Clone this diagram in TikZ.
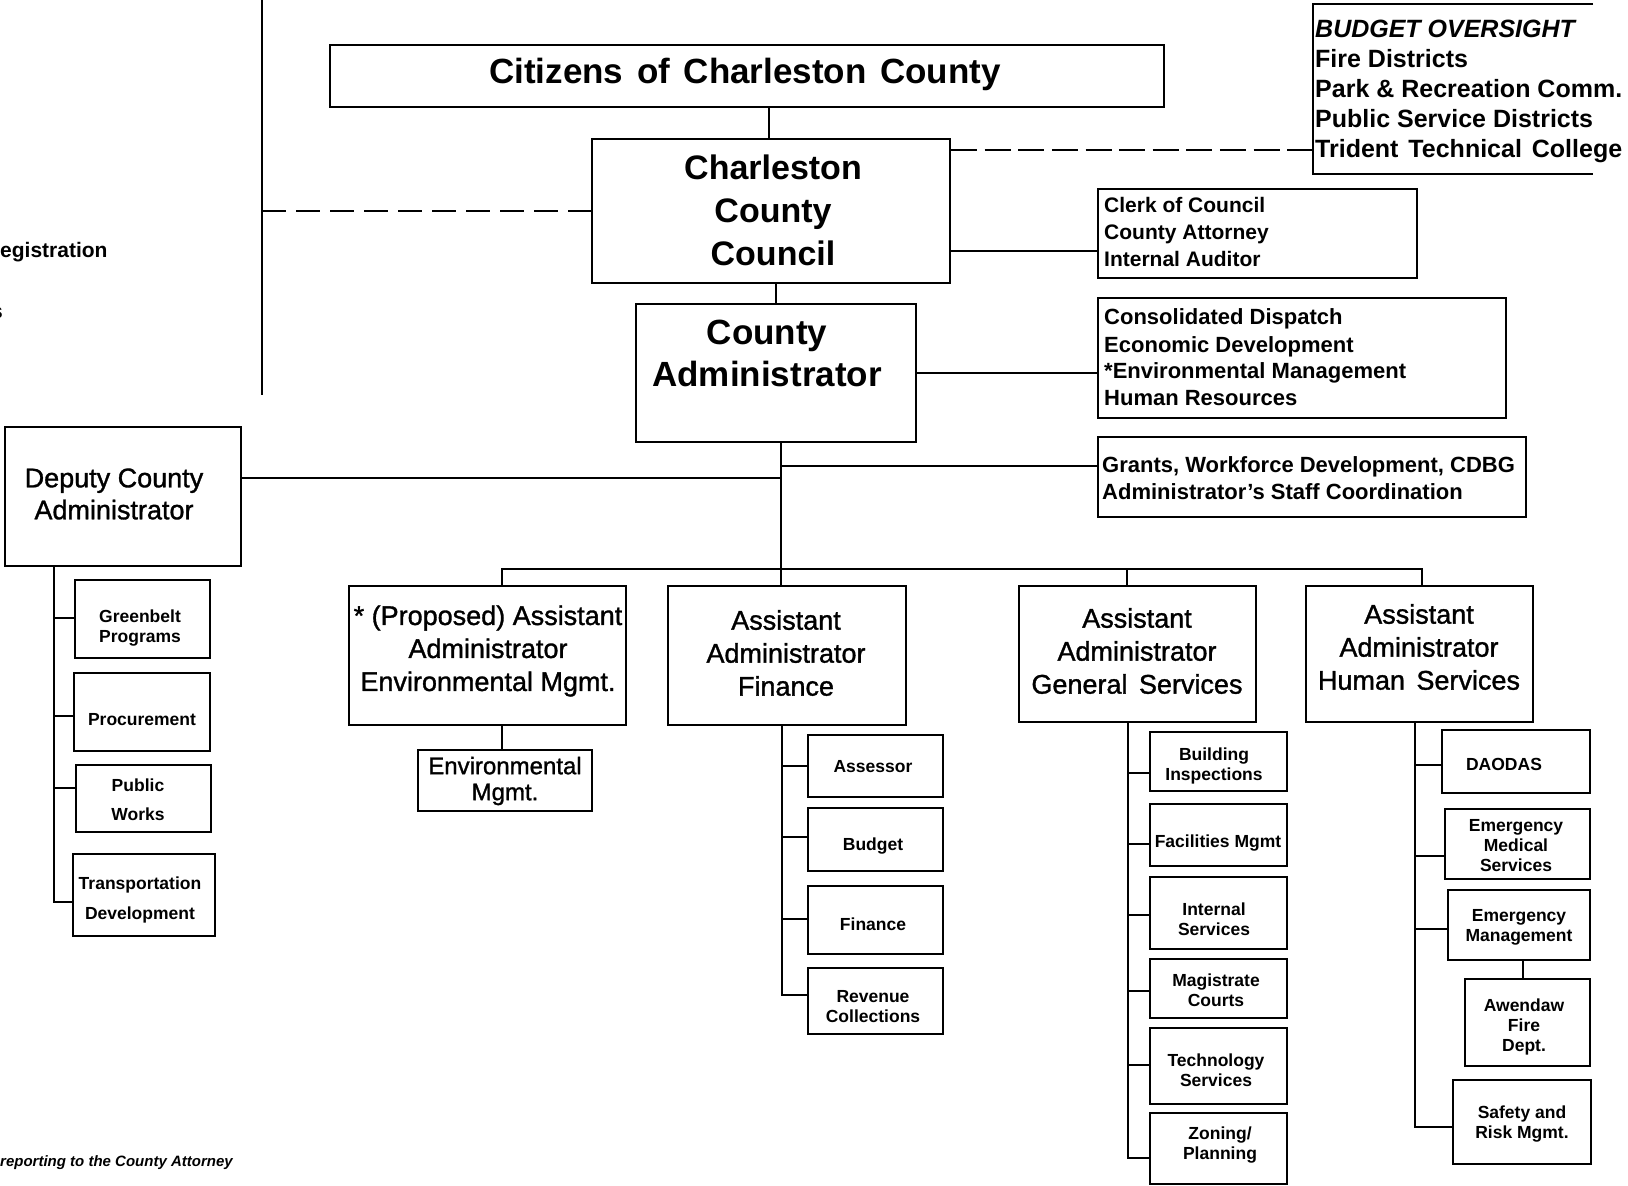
\documentclass[tikz,border=0pt]{standalone}
\usepackage{fontspec}
\setmainfont{Liberation Sans}
\newfontfamily\heavyreg{Liberation Sans}[FakeBold=1.2]
\newcommand\fsz[2]{\fontsize{#1}{#2}\selectfont}
\tikzset{
  box/.style={draw, line width=2.2pt, inner sep=0pt, rectangle},
  conn/.style={line width=2.2pt},
  dashleft/.style={line width=2.2pt, dash pattern=on 24pt off 10pt},
  dashright/.style={line width=2.2pt, dash pattern=on 26pt off 7.6pt},
  tbig/.style={font=\bfseries\fsz{35}{42}, align=center, inner sep=0pt},
  tmid/.style={font=\heavyreg\fsz{27}{33}, align=center, inner sep=0pt},
  tsm/.style={font=\bfseries\fsz{17.5}{20}, align=center, inner sep=0pt},
  tlist/.style={anchor=base west, inner sep=0pt},
}
\begin{document}
\begin{tikzpicture}[x=1pt,y=-1pt]
\useasboundingbox (0,0) rectangle (1628,1186);
\fill[white] (0,0) rectangle (1628,1186);
\clip (0,0) rectangle (1628,1186);

% ---- boxes ----
\node[box, minimum width=834pt, minimum height=62pt] (citizens) at (747,76) {};
\node[box, minimum width=358pt, minimum height=144pt] (council) at (771,211) {};
\node[box, minimum width=280pt, minimum height=138pt] (admin) at (776,373) {};
\node[inner sep=0pt, minimum width=280pt, minimum height=169pt] (budget) at (1453,89) {};
\node[box, minimum width=319pt, minimum height=89pt] (clerk) at (1257.5,233.5) {};
\node[box, minimum width=408pt, minimum height=120pt] (dispatch) at (1302,358) {};
\node[box, minimum width=428pt, minimum height=80pt] (grants) at (1312,477) {};
\node[box, minimum width=236pt, minimum height=139pt] (deputy) at (123,496.5) {};
\node[box, minimum width=277pt, minimum height=139pt] (proposed) at (487.5,655.5) {};
\node[box, minimum width=174pt, minimum height=61pt] (envm) at (505,780.5) {};
\node[box, minimum width=238pt, minimum height=139pt] (finbox) at (787,655.5) {};
\node[box, minimum width=237pt, minimum height=136pt] (gen) at (1137.5,654) {};
\node[box, minimum width=227pt, minimum height=136pt] (hum) at (1419.5,654) {};

\node[box, minimum width=135pt, minimum height=78pt] (greenbelt) at (142.5,619) {};
\node[box, minimum width=136pt, minimum height=78pt] (procure) at (142,712) {};
\node[box, minimum width=135pt, minimum height=67pt] (pubw) at (143.5,798.5) {};
\node[box, minimum width=142pt, minimum height=82pt] (transp) at (144,895) {};

\node[box, minimum width=135pt, minimum height=62pt] (assessor) at (875.5,766) {};
\node[box, minimum width=135pt, minimum height=63pt] (budgetb) at (875.5,839.5) {};
\node[box, minimum width=135pt, minimum height=68pt] (finc) at (875.5,920) {};
\node[box, minimum width=135pt, minimum height=66pt] (revenue) at (875.5,1001) {};

\node[box, minimum width=137pt, minimum height=59pt] (building) at (1218.5,761.5) {};
\node[box, minimum width=137pt, minimum height=62pt] (facil) at (1218.5,835) {};
\node[box, minimum width=137pt, minimum height=72pt] (internal) at (1218.5,913) {};
\node[box, minimum width=137pt, minimum height=59pt] (magis) at (1218.5,988.5) {};
\node[box, minimum width=137pt, minimum height=76pt] (techn) at (1218.5,1066) {};
\node[box, minimum width=137pt, minimum height=71pt] (zoning) at (1218.5,1148.5) {};

\node[box, minimum width=148pt, minimum height=63pt] (daodas) at (1516,761.5) {};
\node[box, minimum width=145pt, minimum height=70pt] (ems) at (1517.5,844) {};
\node[box, minimum width=142pt, minimum height=70pt] (emgmt) at (1519,925) {};
\node[box, minimum width=125pt, minimum height=87pt] (awendaw) at (1527.5,1022.5) {};
\node[box, minimum width=138pt, minimum height=84pt] (safety) at (1522,1122) {};

% budget box: open on the right
\draw[conn] (budget.north east) -- (budget.north west) -- (budget.south west) -- (budget.south east);

% ---- connectors ----
\coordinate (vtop) at (262,0);
\coordinate (vbot) at (262,395);
\draw[conn] (vtop) -- (vbot);
\draw[dashleft] (vtop |- council.west) -- (council.west);
\draw[dashright] (council.east |- 0,150) -- (budget.west |- 0,150);
\draw[conn] (citizens.south -| 769,0) -- (council.north -| 769,0);
\draw[conn] (admin.north |- council.south) -- (admin.north);
\draw[conn] (council.east |- 0,251) -- (clerk.west |- 0,251);
\draw[conn] (admin.east) -- (admin.east -| dispatch.west);
\draw[conn] (admin.south -| 781,0) -- (finbox.north -| 781,0);
\draw[conn] (781,466) -- (grants.west |- 0,466);
\draw[conn] (deputy.east |- 0,478) -- (781,478);
\draw[conn] (proposed.north -| 502,0) -- (502,569) -- (1422,569) -- (hum.north -| 1422,0);
\draw[conn] (gen.north -| 1127,0) -- (1127,569);
\draw[conn] (proposed.south -| 502,0) -- (envm.north -| 502,0);

% deputy children
\draw[conn] (deputy.south -| 54,0) |- (transp.west |- 0,902);
\draw[conn] (54,618) -- (greenbelt.west |- 0,618);
\draw[conn] (54,716) -- (procure.west |- 0,716);
\draw[conn] (54,788) -- (pubw.west |- 0,788);

% finance children
\draw[conn] (finbox.south -| 782,0) |- (revenue.west |- 0,995);
\draw[conn] (782,766) -- (assessor.west |- 0,766);
\draw[conn] (782,837) -- (budgetb.west |- 0,837);
\draw[conn] (782,919) -- (finc.west |- 0,919);

% general services children
\draw[conn] (gen.south -| 1128,0) |- (zoning.west |- 0,1158);
\draw[conn] (1128,773) -- (building.west |- 0,773);
\draw[conn] (1128,844) -- (facil.west |- 0,844);
\draw[conn] (1128,915) -- (internal.west |- 0,915);
\draw[conn] (1128,991) -- (magis.west |- 0,991);
\draw[conn] (1128,1065) -- (techn.west |- 0,1065);

% human services children
\draw[conn] (hum.south -| 1415,0) |- (safety.west |- 0,1127);
\draw[conn] (1415,765) -- (daodas.west |- 0,765);
\draw[conn] (1415,856) -- (ems.west |- 0,856);
\draw[conn] (1415,929) -- (emgmt.west |- 0,929);
\draw[conn] (emgmt.south -| 1523,0) -- (awendaw.north -| 1523,0);

% ---- texts ----
\node[tbig, font=\bfseries\fsz{35}{42}] (citizens-t) at (745,74) {Citizens\hspace{4pt} of\hspace{4pt} Charleston\hspace{4pt} County};
\node[tbig, font=\bfseries\fsz{34}{43}] (council-t) at (773,210) {Charleston\\County\\Council};
\node[tbig, font=\bfseries\fsz{35}{42}] (admin-t) at (767,353) {County\\Administrator};

\node[tlist, font=\bfseries\itshape\fsz{25}{30}] (bud1) at (1315,37) {BUDGET OVERSIGHT};
\node[tlist, font=\bfseries\fsz{25}{30}] (bud2) at (1315,67) {Fire Districts};
\node[tlist, font=\bfseries\fsz{25}{30}] (bud3) at (1315,97) {Park \& Recreation Comm.};
\node[tlist, font=\bfseries\fsz{25}{30}] (bud4) at (1315,127) {Public Service Districts};
\node[tlist, font=\bfseries\fsz{25}{30}] (bud5) at (1315,157) {Trident\hspace{3pt} Technical\hspace{3pt} College};

\node[tlist, font=\bfseries\fsz{21}{27}] (clerk1) at (1104,212) {Clerk of Council};
\node[tlist, font=\bfseries\fsz{21}{27}] (clerk2) at (1104,239) {County Attorney};
\node[tlist, font=\bfseries\fsz{21}{27}] (clerk3) at (1104,266) {Internal Auditor};

\node[tlist, font=\bfseries\fsz{22}{27}] (disp1) at (1104,324) {Consolidated Dispatch};
\node[tlist, font=\bfseries\fsz{22}{27}] (disp2) at (1104,352) {Economic Development};
\node[tlist, font=\bfseries\fsz{22}{27}] (disp3) at (1104,378) {*Environmental Management};
\node[tlist, font=\bfseries\fsz{22}{27}] (disp4) at (1104,405) {Human Resources};

\node[tlist, font=\bfseries\fsz{22}{27}] (gr1) at (1102,472) {Grants, Workforce Development, CDBG};
\node[tlist, font=\bfseries\fsz{22}{27}] (gr2) at (1102,499) {Administrator’s Staff Coordination};

\node[tmid, font=\heavyreg\fsz{27}{32}] (deputy-t) at (114,494) {Deputy County\\Administrator};
\node[tmid] (proposed-t) at (488,651) {* (Proposed) Assistant\\Administrator\\Environmental Mgmt.};
\node[tmid] (finbox-t) at (786,653) {Assistant\\Administrator\\Finance};
\node[tmid] (gen-t) at (1137,651) {Assistant\\Administrator\\General\hspace{4pt} Services};
\node[tmid] (hum-t) at (1419,647) {Assistant\\Administrator\\Human\hspace{4pt} Services};
\node[tmid, font=\heavyreg\fsz{24}{26}] (envm-t) at (505,781) {Environmental\\Mgmt.};

\node[tsm] (greenbelt-t) at (140,628) {Greenbelt\\Programs};
\node[tsm] (procure-t) at (142,720) {Procurement};
\node[tsm, font=\bfseries\fsz{17.5}{29}] (pubw-t) at (138,800) {Public\\Works};
\node[tsm, font=\bfseries\fsz{17.5}{30}] (transp-t) at (140,900) {Transportation\\Development};

\node[tsm] (assessor-t) at (873,767) {Assessor};
\node[tsm] (budgetb-t) at (873,846) {Budget};
\node[tsm] (finc-t) at (873,924) {Finance};
\node[tsm] (revenue-t) at (873,1007) {Revenue\\Collections};

\node[tsm] (building-t) at (1214,766) {Building\\Inspections};
\node[tsm] (facil-t) at (1218,843) {Facilities Mgmt};
\node[tsm] (internal-t) at (1214,919) {Internal\\Services};
\node[tsm] (magis-t) at (1216,990) {Magistrate\\Courts};
\node[tsm] (techn-t) at (1216,1070) {Technology\\Services};
\node[tsm] (zoning-t) at (1220,1145) {Zoning/\\Planning};

\node[tsm] (daodas-t) at (1504,764) {DAODAS};
\node[tsm] (ems-t) at (1516,846) {Emergency\\Medical\\Services};
\node[tsm] (emgmt-t) at (1519,927) {Emergency\\Management};
\node[tsm] (awendaw-t) at (1524,1027) {Awendaw\\Fire\\Dept.};
\node[tsm] (safety-t) at (1522,1124) {Safety and\\Risk Mgmt.};

% cut-off texts at the left edge
\node[tlist, font=\bfseries\fsz{21}{25}] (regis) at (0,257) {egistration};
\node[anchor=base east, inner sep=0pt, font=\bfseries\fsz{21}{25}] (frag) at (3,318) {s};
\node[tlist, font=\bfseries\itshape\fsz{15}{18}] (foot) at (0,1166) {reporting to the County Attorney};
\end{tikzpicture}
\end{document}
